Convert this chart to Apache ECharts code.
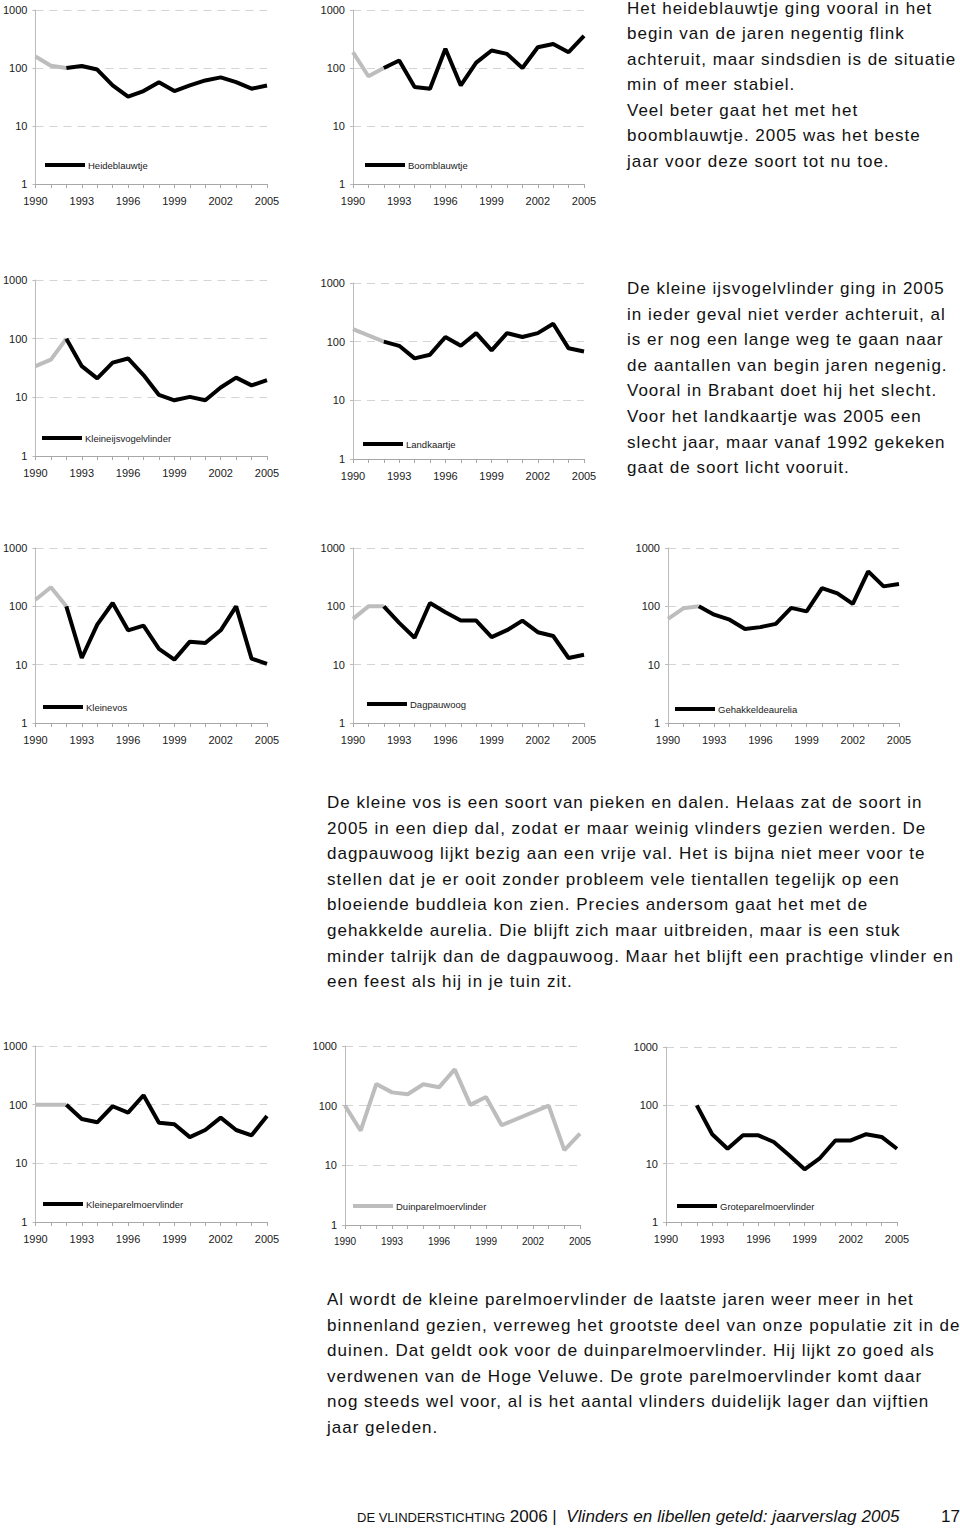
<!DOCTYPE html>
<html>
<head>
<meta charset="utf-8">
<script src="https://cdn.jsdelivr.net/npm/echarts@6/dist/echarts.min.js"></script>
<style>
  html, body { margin: 0; padding: 0; background: #fff; }
  #wrap { position: relative; width: 960px; height: 1528px; overflow: hidden; }
  #chart { position: absolute; left: 0; top: 0; width: 960px; height: 1528px; }
  .para { position: absolute; font-family: "Liberation Sans", Arial, sans-serif; font-size: 17px;
          letter-spacing: 1.0px; line-height: 25.6px; color: #111; white-space: nowrap; }
  .foot { position: absolute; font-family: "Liberation Sans", Arial, sans-serif; color: #111; white-space: nowrap; line-height: 20px; }
</style>
</head>
<body>
<div id="wrap">
  <div id="chart"></div>
  <div class="para" style="left:627px; top:-4.5px;">Het heideblauwtje ging vooral in het<br>begin van de jaren negentig flink<br>achteruit, maar sindsdien is de situatie<br>min of meer stabiel.<br>Veel beter gaat het met het<br>boomblauwtje. 2005 was het beste<br>jaar voor deze soort tot nu toe.</div>
  <div class="para" style="left:627px; top:276px;">De kleine ijsvogelvlinder ging in 2005<br>in ieder geval niet verder achteruit, al<br>is er nog een lange weg te gaan naar<br>de aantallen van begin jaren negenig.<br>Vooral in Brabant doet hij het slecht.<br>Voor het landkaartje was 2005 een<br>slecht jaar, maar vanaf 1992 gekeken<br>gaat de soort licht vooruit.</div>
  <div class="para" style="left:327px; top:790px;">De kleine vos is een soort van pieken en dalen. Helaas zat de soort in<br>2005 in een diep dal, zodat er maar weinig vlinders gezien werden. De<br>dagpauwoog lijkt bezig aan een vrije val. Het is bijna niet meer voor te<br>stellen dat je er ooit zonder probleem vele tientallen tegelijk op een<br>bloeiende buddleia kon zien. Precies andersom gaat het met de<br>gehakkelde aurelia. Die blijft zich maar uitbreiden, maar is een stuk<br>minder talrijk dan de dagpauwoog. Maar het blijft een prachtige vlinder en<br>een feest als hij in je tuin zit.</div>
  <div class="para" style="left:327px; top:1287px;">Al wordt de kleine parelmoervlinder de laatste jaren weer meer in het<br>binnenland gezien, verreweg het grootste deel van onze populatie zit in de<br>duinen. Dat geldt ook voor de duinparelmoervlinder. Hij lijkt zo goed als<br>verdwenen van de Hoge Veluwe. De grote parelmoervlinder komt daar<br>nog steeds wel voor, al is het aantal vlinders duidelijk lager dan vijftien<br>jaar geleden.</div>
  <div class="foot" style="left:357px; top:1507px;"><span style="font-size:13px;">DE VLINDERSTICHTING</span><span style="font-size:17px;"> 2006 </span><span style="font-size:17px;">|&nbsp;&nbsp;</span><span style="font-size:17px; font-style:italic; letter-spacing:0.1px;">Vlinders en libellen geteld: jaarverslag 2005</span></div>
  <div class="foot" style="left:941px; top:1507px; font-size:17px;">17</div>
</div>
<script>
// ---- data ----
const years = ['1990','1991','1992','1993','1994','1995','1996','1997','1998','1999','2000','2001','2002','2003','2004','2005'];
const yTicks = [1, 10, 100, 1000];
const heideblauwtje = [158, 109, 100, 108, 94, 50, 32, 40, 57, 40, 50, 61, 69, 57, 44, 50];
const boomblauwtje = [187, 72, 100, 135, 47, 44, 214, 50, 124, 200, 175, 100, 228, 260, 187, 357];
const kleineIjsvogelvlinder = [34, 44, 100, 34, 21, 39, 46, 24, 11, 8.9, 10.2, 8.9, 14.7, 21.7, 16, 19.6];
const landkaartje = [164, 128, 100, 85, 52, 60, 120, 85, 140, 71, 140, 120, 140, 202, 77, 68];
const kleineVos = [130, 212, 100, 13, 48.5, 114, 38.8, 46.6, 18.6, 12.2, 24.8, 23.5, 38.8, 100, 12.7, 10.3];
const dagpauwoog = [61, 100, 100, 52, 29, 114, 79, 57, 57, 29.6, 39, 57, 36, 31, 13, 14.8];
const gehakkeldeAurelia = [61, 92.5, 100, 72, 59, 41, 44, 50, 94, 82, 206, 167, 110, 398, 220, 241];
const kleineParelmoervlinder = [100, 100, 100, 57, 50, 94, 73, 145, 49, 46.5, 28, 37, 60, 37, 30, 64];
const duinparelmoervlinder = [100, 38, 231, 167, 155, 228, 203, 406, 103, 140, 47, null, null, 100, 18, 34];
const groteParelmoervlinder = [null, null, 100, 32, 18, 30.6, 30.6, 23.5, 13.9, 8, 12.5, 25, 25, 32, 28.7, 18];
const greyEndIndex = 2; // 1990-1992 drawn grey

// ---- layout (panel positions) ----
const panels = [
  { name: 'Heideblauwtje', data: heideblauwtje, g: [35, 10, 232, 174], lg: [45, 160] },
  { name: 'Boomblauwtje', data: boomblauwtje, g: [353, 10, 231, 174], lg: [365, 160] },
  { name: 'Kleineijsvogelvlinder', data: kleineIjsvogelvlinder, g: [35, 280, 232, 176], lg: [42, 433] },
  { name: 'Landkaartje', data: landkaartje, g: [353, 283, 231, 176], lg: [363, 439] },
  { name: 'Kleinevos', data: kleineVos, g: [35, 548, 232, 175], lg: [43, 702] },
  { name: 'Dagpauwoog', data: dagpauwoog, g: [353, 548, 231, 175], lg: [367, 699] },
  { name: 'Gehakkeldeaurelia', data: gehakkeldeAurelia, g: [668, 548, 231, 175], lg: [675, 704] },
  { name: 'Kleineparelmoervlinder', data: kleineParelmoervlinder, g: [35, 1046, 232, 176], lg: [43, 1199] },
  { name: 'Duinparelmoervlinder', data: duinparelmoervlinder, g: [345, 1046, 235, 179], lg: [353, 1201], allGrey: true, small: true },
  { name: 'Groteparelmoervlinder', data: groteParelmoervlinder, g: [666, 1047, 231, 175], lg: [677, 1201] }
];

const GREY = '#bdbdbd';
const FONT = '"Liberation Sans", Arial, sans-serif';
const option = { animation: false, grid: [], xAxis: [], yAxis: [], series: [], legend: [] };

panels.forEach((p, i) => {
  option.grid.push({ left: p.g[0], top: p.g[1], width: p.g[2], height: p.g[3], containLabel: false });
  option.xAxis.push({
    type: 'category', gridIndex: i, data: years, boundaryGap: false,
    axisLine: { show: true, lineStyle: { color: '#a8a8a8', width: 1 } },
    axisTick: { show: true, interval: 0, length: 4, lineStyle: { color: '#a8a8a8' } },
    axisLabel: { interval: 2, margin: 11, color: '#1a1a1a', fontFamily: FONT, fontSize: p.small ? 10 : 11 },
    splitLine: { show: false }
  });
  option.yAxis.push({
    type: 'log', logBase: 10, gridIndex: i, min: yTicks[0], max: yTicks[yTicks.length - 1], splitNumber: 3,
    axisLine: { show: true, lineStyle: { color: '#bcbcbc', width: 1 } },
    axisTick: { show: true, length: 3, lineStyle: { color: '#bcbcbc' } },
    axisLabel: { margin: 8, color: '#1a1a1a', fontFamily: FONT, fontSize: 11,
      formatter: v => String(Math.round(v)) },
    splitLine: { show: true, lineStyle: { color: '#d4d4d4', type: [8, 6], width: 1 } }
  });
  if (p.allGrey) {
    option.series.push({
      name: p.name, type: 'line', xAxisIndex: i, yAxisIndex: i, data: p.data,
      showSymbol: false, connectNulls: true, color: GREY,
      lineStyle: { color: GREY, width: 4 }
    });
  } else {
    option.series.push({
      name: p.name + ' (grijs)', type: 'line', xAxisIndex: i, yAxisIndex: i,
      data: p.data.map((v, k) => (k <= greyEndIndex ? v : null)),
      showSymbol: false, color: GREY, lineStyle: { color: GREY, width: 4 }
    });
    option.series.push({
      name: p.name, type: 'line', xAxisIndex: i, yAxisIndex: i,
      data: p.data.map((v, k) => (k >= greyEndIndex ? v : null)),
      showSymbol: false, color: '#000', lineStyle: { color: '#000', width: 4 }
    });
  }
  option.legend.push({
    data: [p.name], left: p.lg[0], top: p.lg[1], orient: 'horizontal',
    icon: 'rect', itemWidth: 40, itemHeight: 4, itemGap: 0, padding: 0,
    selectedMode: false,
    textStyle: { fontFamily: FONT, fontSize: 9.5, color: '#1a1a1a', padding: [0, 0, 0, -2] }
  });
});

const chart = echarts.init(document.getElementById('chart'), null, { renderer: 'svg', width: 960, height: 1528 });
chart.setOption(option);
</script>
</body>
</html>
